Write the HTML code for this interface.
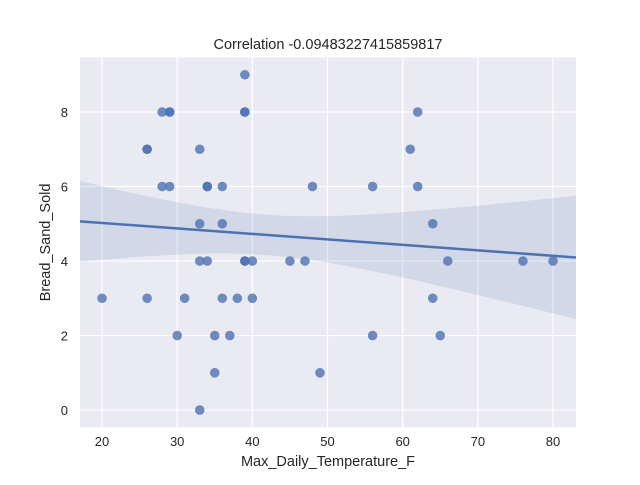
<!DOCTYPE html>
<html><head><meta charset="utf-8"><style>
body{margin:0;background:#fff;}
svg text{font-family:"Liberation Sans","DejaVu Sans",sans-serif;fill:#262626;}
</style></head><body>
<svg id="chart" width="640" height="480"></svg>
<script>
const xs=[20,26,26,26,28,28,29,29,29,30,31,33,33,33,33,34,34,34,35,35,36,36,36,37,38,39,39,39,39,39,40,40,45,47,48,49,56,56,61,62,62,64,64,65,66,76,80];
const ys=[3,7,7,3,8,6,8,8,6,2,3,7,5,4,0,6,6,4,2,1,6,5,3,2,3,9,8,8,4,4,4,3,4,4,6,1,6,2,7,8,6,5,3,2,4,4,4];
const xTicks=[20,30,40,50,60,70,80];
const yTicks=[0,2,4,6,8];
const titleText="Correlation -0.09483227415859817";
const L=80,R=576,T=57.6,B=427.2,xMin=17.07,xMax=83.06,yMin=-0.46,yMax=9.46;
const sx=v=>L+(v-xMin)/(xMax-xMin)*(R-L);
const sy=v=>B-(v-yMin)/(yMax-yMin)*(B-T);
const svg=document.getElementById('chart');const NS='http://www.w3.org/2000/svg';
function mk(t,a,p){const e=document.createElementNS(NS,t);for(const k in a)e.setAttribute(k,a[k]);(p||svg).appendChild(e);return e;}
const bg=mk('rect',{x:L,y:T,width:R-L,height:B-T,fill:'#EAEAF2'});


xTicks.forEach(v=>{const l=mk('line',{x1:sx(v),x2:sx(v),y1:T,y2:B,stroke:'#fff','stroke-width':1.2});


const t=mk('text',{x:sx(v),y:B+19,'text-anchor':'middle','font-size':13});t.textContent=v;

});
yTicks.forEach(v=>{const l=mk('line',{x1:L,x2:R,y1:sy(v),y2:sy(v),stroke:'#fff','stroke-width':1.2});


const t=mk('text',{x:L-12,y:sy(v)+5,'text-anchor':'end','font-size':13});t.textContent=v;

});
const n=xs.length,mx=xs.reduce((a,b)=>a+b)/n,my=ys.reduce((a,b)=>a+b)/n;
let sxx=0,sxy=0;for(let i=0;i<n;i++){sxx+=(xs[i]-mx)**2;sxy+=(xs[i]-mx)*(ys[i]-my);}
const b1=sxy/sxx,b0=my-b1*mx;let sse=0;for(let i=0;i<n;i++)sse+=(ys[i]-b0-b1*xs[i])**2;
const s=Math.sqrt(sse/(n-2)),tc=1.65;
let up=[],lo=[];for(let k=0;k<=60;k++){const x=xMin+(xMax-xMin)*k/60;const yh=b0+b1*x;const se=s*Math.sqrt(1/n+(x-mx)**2/sxx);
up.push(sx(x)+','+sy(yh+tc*se));lo.unshift(sx(x)+','+sy(yh-tc*se));}
const band=mk('polygon',{points:up.concat(lo).join(' '),fill:'#4C72B0','fill-opacity':0.15});


xs.forEach((x,i)=>{const c=mk('circle',{cx:sx(x),cy:sy(ys[i]),r:4.8,fill:'#4C72B0','fill-opacity':0.8});

});
const rl=mk('line',{x1:sx(xMin),y1:sy(b0+b1*xMin),x2:sx(xMax),y2:sy(b0+b1*xMax),stroke:'#4C72B0','stroke-width':2.5});


const tt=mk('text',{x:(L+R)/2,y:49,'text-anchor':'middle','font-size':14.5});tt.textContent=titleText;


const xl=mk('text',{x:(L+R)/2,y:466,'text-anchor':'middle','font-size':14.5});xl.textContent='Max_Daily_Temperature_F';


const yl=mk('text',{x:0,y:0,'text-anchor':'middle','font-size':14.5,transform:'translate(50,'+((T+B)/2)+') rotate(-90)'});yl.textContent='Bread_Sand_Sold';


</script>
</body></html>
